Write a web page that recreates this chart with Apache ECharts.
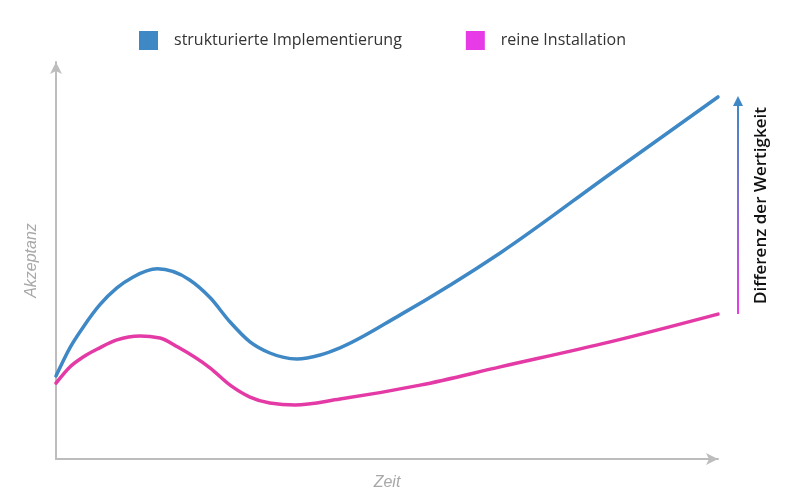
<!DOCTYPE html>
<html>
<head>
<meta charset="utf-8">
<script src="https://cdn.jsdelivr.net/npm/echarts@6/dist/echarts.min.js"></script>
<style>html,body{margin:0;padding:0;background:#fff}#c{width:800px;height:500px}</style>
</head>
<body>
<div id="c"></div>
<script>
// Data (relative units, 0..100 on both axes)
const seriesNames = ['strukturierte Implementierung', 'reine Installation'];
const blueX = [0, 2.1, 4.1, 6.6, 9.2, 11.6, 15.3, 20.2, 23.3, 26.3, 29.3, 32.3, 36.4, 39.9, 42.9, 52.0, 67.1, 83.7, 100];
const blueY = [20.9, 28.0, 33.2, 38.8, 43.1, 45.8, 47.9, 45.1, 40.6, 34.5, 29.5, 26.7, 25.2, 26.2, 28.0, 36.3, 51.9, 71.8, 91.2];
const pinkX = [0, 2.1, 4.1, 6.6, 9.2, 12.7, 15.7, 18.4, 23.3, 26.3, 29.3, 32.3, 36.1, 42.9, 55.0, 67.1, 83.7, 100];
const pinkY = [19.1, 23.2, 25.7, 28.0, 30.0, 31.0, 30.5, 28.2, 22.9, 18.6, 15.6, 14.1, 13.6, 15.1, 18.6, 23.2, 29.5, 36.5];
const xAxisName = 'Zeit';
const yAxisName = 'Akzeptanz';
const annotationText = 'Differenz der Wertigkeit';

const BLUE = '#3f88c6';
const PINK = '#e43aa6';
const MAGENTA = '#e83be8';

const chart = echarts.init(document.getElementById('c'), null, {renderer: 'canvas'});
const pair = (xs, ys) => xs.map((x, i) => [x, ys[i]]);
const axisGray = '#bdbdbd';

// Monotone cubic curve (as in d3.curveMonotoneX) through the points, mapped by the axes
function monotonePath(p) {
  const n = p.length;
  const sgn = v => (v > 0) - (v < 0);
  const t = new Array(n).fill(0);
  for (let i = 1; i < n - 1; i++) {
    const h0 = p[i][0] - p[i - 1][0], h1 = p[i + 1][0] - p[i][0];
    const s0 = (p[i][1] - p[i - 1][1]) / h0, s1 = (p[i + 1][1] - p[i][1]) / h1;
    const q = (s0 * h1 + s1 * h0) / (h0 + h1);
    t[i] = (sgn(s0) + sgn(s1)) * Math.min(Math.abs(s0), Math.abs(s1), 0.5 * Math.abs(q)) || 0;
  }
  const e0 = (p[1][1] - p[0][1]) / (p[1][0] - p[0][0]);
  t[0] = (3 * e0 - t[1]) / 2;
  const e1 = (p[n - 1][1] - p[n - 2][1]) / (p[n - 1][0] - p[n - 2][0]);
  t[n - 1] = (3 * e1 - t[n - 2]) / 2;
  let d = 'M' + p[0][0] + ' ' + p[0][1];
  for (let i = 0; i < n - 1; i++) {
    const dx = (p[i + 1][0] - p[i][0]) / 3;
    d += ' C' + (p[i][0] + dx) + ' ' + (p[i][1] + dx * t[i]) + ' ' +
         (p[i + 1][0] - dx) + ' ' + (p[i + 1][1] - dx * t[i + 1]) + ' ' + p[i + 1][0] + ' ' + p[i + 1][1];
  }
  return d;
}
function curveRenderer(xs, ys, color) {
  return function (params, api) {
    if (params.dataIndex !== 0) return null;
    const pts = xs.map((x, i) => api.coord([x, ys[i]]));
    return {
      type: 'path',
      shape: {pathData: monotonePath(pts)},
      style: {fill: 'none', stroke: color, lineWidth: 3.5, lineCap: 'round', lineJoin: 'round'},
      silent: true
    };
  };
}

chart.setOption({
  animation: false,
  grid: {left: 56, right: 82, top: 62, bottom: 41, containLabel: false, outerBoundsMode: 'none'},
  legend: {
    top: 26,
    left: 134,
    icon: 'rect',
    itemWidth: 19,
    itemHeight: 19,
    itemGap: 64,
    textStyle: {fontFamily: 'Open Sans', fontSize: 16, color: '#333', padding: [0, 0, 0, 11]},
    data: [
      {name: seriesNames[0], icon: 'rect', itemStyle: {color: BLUE}},
      {name: seriesNames[1], icon: 'rect', itemStyle: {color: MAGENTA}}
    ]
  },
  xAxis: {
    type: 'value', min: 0, max: 100,
    name: xAxisName, nameLocation: 'middle', nameGap: 16,
    nameTextStyle: {fontFamily: 'Liberation Sans', fontStyle: 'italic', fontSize: 16, color: '#a8a8a8'},
    axisLine: {show: true, lineStyle: {color: axisGray, width: 2}, symbol: ['none', 'arrow'], symbolSize: [9, 12]},
    axisTick: {show: false}, axisLabel: {show: false}, splitLine: {show: false}
  },
  yAxis: {
    type: 'value', min: 0, max: 100,
    name: yAxisName, nameLocation: 'middle', nameGap: 16, nameRotate: 90,
    nameTextStyle: {fontFamily: 'Liberation Sans', fontStyle: 'italic', fontSize: 16, color: '#a8a8a8'},
    axisLine: {show: true, lineStyle: {color: axisGray, width: 2}, symbol: ['none', 'arrow'], symbolSize: [9, 12]},
    axisTick: {show: false}, axisLabel: {show: false}, splitLine: {show: false}
  },
  series: [
    {name: seriesNames[0], type: 'custom', coordinateSystem: 'cartesian2d', encode: {x: 0, y: 1},
     data: pair(blueX, blueY), renderItem: curveRenderer(blueX, blueY, BLUE), itemStyle: {color: BLUE}},
    {name: seriesNames[1], type: 'custom', coordinateSystem: 'cartesian2d', encode: {x: 0, y: 1},
     data: pair(pinkX, pinkY), renderItem: curveRenderer(pinkX, pinkY, PINK), itemStyle: {color: MAGENTA}}
  ]
});

// Annotation arrow between the two end values, positioned via the chart's scales
const topPt = chart.convertToPixel({gridIndex: 0}, [blueX[blueX.length - 1], blueY[blueY.length - 1]]);
const botPt = chart.convertToPixel({gridIndex: 0}, [pinkX[pinkX.length - 1], pinkY[pinkY.length - 1]]);
const ax = topPt[0] + 20;
const grad = new echarts.graphic.LinearGradient(0, 0, 0, 1, [
  {offset: 0, color: '#3f88c6'}, {offset: 0.45, color: '#7f6fd6'}, {offset: 1, color: MAGENTA}
]);
chart.setOption({
  graphic: [
    {type: 'rect', shape: {x: ax - 1, y: topPt[1] + 6, width: 2, height: botPt[1] - topPt[1] - 6},
     style: {fill: grad}, silent: true},
    {type: 'polygon', shape: {points: [[ax, topPt[1] - 1], [ax - 5, topPt[1] + 9], [ax + 5, topPt[1] + 9]]},
     style: {fill: '#3f88c6'}, silent: true},
    {type: 'text', x: ax + 23, y: (topPt[1] + botPt[1]) / 2, rotation: Math.PI / 2,
     style: {text: annotationText, fontFamily: 'Open Sans', fontWeight: 600, fontSize: 17, fill: '#111',
             align: 'center', verticalAlign: 'middle'}, silent: true}
  ]
});
</script>
</body>
</html>
